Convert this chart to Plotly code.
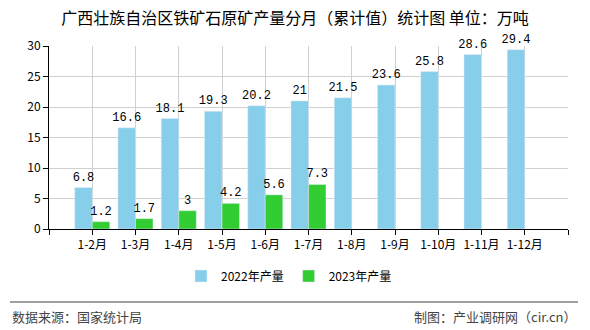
import plotly.graph_objects as go

categories = ["1-2月", "1-3月", "1-4月", "1-5月", "1-6月", "1-7月", "1-8月", "1-9月", "1-10月", "1-11月", "1-12月"]
values_2022 = [6.8, 16.6, 18.1, 19.3, 20.2, 21, 21.5, 23.6, 25.8, 28.6, 29.4]
values_2023 = [1.2, 1.7, 3, 4.2, 5.6, 7.3]
series_names = ["2022年产量", "2023年产量"]
y_ticks = [0, 5, 10, 15, 20, 25, 30]

title_text = "广西壮族自治区铁矿石原矿产量分月（累计值）统计图 单位：万吨"
source_text = "数据来源：国家统计局"
credit_text = "制图：产业调研网（cir.cn）"

cjk = "Noto Sans CJK SC, sans-serif"
mono = "Liberation Mono, DejaVu Sans Mono, monospace"

idx = list(range(len(categories)))

fig = go.Figure()
fig.add_trace(go.Bar(
    x=idx, y=values_2022, name=series_names[0], marker_color="#87CEEB",
    text=[f"{v:g}" for v in values_2022], textposition="outside",
    textfont=dict(family=mono, size=12, color="#000"), constraintext="none",
    cliponaxis=False, offsetgroup="a",
))
fig.add_trace(go.Bar(
    x=idx[:len(values_2023)], y=values_2023, name=series_names[1], marker_color="#32CD32",
    text=[f"{v:g}" for v in values_2023], textposition="outside",
    textfont=dict(family=mono, size=12, color="#000"), constraintext="none",
    cliponaxis=False, offsetgroup="b",
))

tickvals = list(range(-1, len(categories) + 1))
ticktext = [""] + categories + [""]

fig.update_layout(
    width=590, height=330,
    margin=dict(l=49, r=22, t=46, b=101),
    paper_bgcolor="white", plot_bgcolor="white",
    barmode="group", bargap=0.19, bargroupgap=0,
    title=dict(text=title_text, x=0.5, xanchor="center", xref="container",
               y=1 - 18 / 330, yanchor="middle", yref="container",
               font=dict(family=cjk, size=16, color="#000")),
    legend=dict(orientation="h", x=(289 - 49) / 519, xanchor="center",
                y=(229 - 276) / 183, yanchor="middle",
                font=dict(family=cjk, size=12, color="#000"),
                itemwidth=30, traceorder="normal"),
    font=dict(family=cjk, size=12, color="#000"),
    showlegend=True,
)
fig.update_xaxes(
    range=[-1, len(categories)], tickmode="array", tickvals=tickvals, ticktext=ticktext,
    showgrid=True, gridcolor="#d0d0d0", gridwidth=1,
    showline=True, linecolor="#000", linewidth=1,
    ticks="outside", ticklen=5, tickcolor="#000",
    tickfont=dict(family=cjk, size=12, color="#000"), zeroline=False,
)
fig.update_yaxes(
    range=[0, 30], tickmode="array", tickvals=y_ticks,
    showgrid=True, gridcolor="#d0d0d0", gridwidth=1,
    showline=True, linecolor="#000", linewidth=1,
    ticks="outside", ticklen=5, tickcolor="#000",
    tickfont=dict(family=cjk, size=12, color="#000"), zeroline=False,
)

fig.add_shape(type="line", xref="paper", yref="paper",
              x0=(10 - 49) / 519, x1=(578 - 49) / 519,
              y0=(229 - 302) / 183, y1=(229 - 302) / 183,
              line=dict(color="#808080", width=1.5))
fig.add_annotation(text=source_text, xref="paper", yref="paper",
                   x=(10 - 49) / 519, xanchor="left", y=(229 - 316) / 183, yanchor="middle",
                   showarrow=False, font=dict(family=cjk, size=13, color="#444"))
fig.add_annotation(text=credit_text, xref="paper", yref="paper",
                   x=(578 - 49) / 519, xanchor="right", y=(229 - 316) / 183, yanchor="middle",
                   showarrow=False, font=dict(family=cjk, size=13, color="#444"))

fig.write_html("out.html")
